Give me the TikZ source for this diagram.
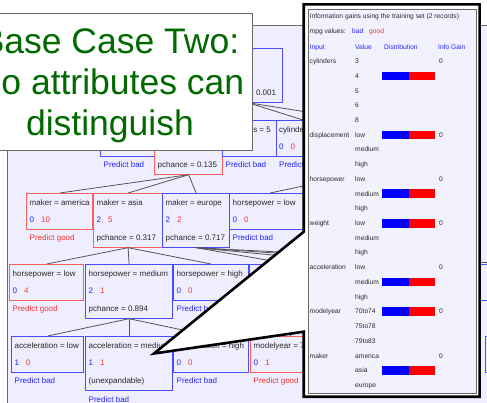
\documentclass[tikz,border=0pt]{standalone}
\usepackage{fontspec}
\setmainfont{Liberation Sans}
\definecolor{lav}{RGB}{238,238,255}
\definecolor{panelbg}{RGB}{242,242,255}
\definecolor{nblue}{RGB}{75,75,255}
\definecolor{nred}{RGB}{255,95,95}
\definecolor{tblue}{RGB}{35,35,255}
\definecolor{tred}{RGB}{255,45,45}
\definecolor{ink}{RGB}{40,40,40}
\definecolor{edge}{RGB}{85,85,85}
\definecolor{framegray}{RGB}{105,105,105}
\definecolor{titlegreen}{RGB}{0,105,0}
\definecolor{barblue}{RGB}{0,0,255}
\definecolor{barred}{RGB}{255,0,0}

\tikzset{
  tbox/.style={line width=1.2pt, fill=lav, inner sep=0pt, anchor=north west, minimum height=36pt},
  badleaf/.style={tbox, draw=nblue},
  goodleaf/.style={tbox, draw=nred},
  badsplit/.style={badleaf, minimum height=53.5pt},
  goodsplit/.style={goodleaf, minimum height=53.5pt},
  lbl/.style={anchor=base west, inner sep=0pt, font=\fontsize{8}{9}\selectfont, text=ink},
  link/.style={draw=edge, line width=0.8pt},
  plbl/.style={anchor=base west, inner sep=0pt, font=\fontsize{6.7}{8}\selectfont, text=ink},
  phead/.style={plbl, text=tblue},
  titleline/.style={anchor=base, inner sep=0pt, font=\fontsize{35.5}{41}\selectfont, text=titlegreen},
}

% text lines inside a tree box, placed from its top-left corner
\newcommand\treecap[2]{\node[lbl] (#1-cap) at ([xshift=3.5pt,yshift=-12pt]#1.north west) {#2};}
\newcommand\treecount[3]{\node[lbl] (#1-cnt) at ([xshift=3.5pt,yshift=-29pt]#1.north west) {\textcolor{tblue}{#2}\hspace{7pt}\textcolor{tred}{#3}};}
\newcommand\treenote[4]{\node[lbl, text=#3] (#1-#2) at ([xshift=3.5pt,yshift=-47.5pt]#1.north west) {#4};}

% rows of the information-gain table
\newcommand\rowy[1]{61.3+14.72*#1}
\newcommand\panelrow[3]{%
  \node[plbl] (pv#1) at (355,{\rowy{#1}+2.3}) {#3};
  \if\relax\detokenize{#2}\relax\else\node[plbl] (pa#1) at (309.5,{\rowy{#1}+2.3}) {#2};\fi}
\newcommand\panelbar[1]{%
  \fill[barblue] (382,{\rowy{#1}-4.3}) rectangle (408.5,{\rowy{#1}+4.3});
  \fill[barred] (408.5,{\rowy{#1}-4.3}) rectangle (435,{\rowy{#1}+4.3});}
\newcommand\panelgain[1]{\node[plbl] (pg#1) at (439,{\rowy{#1}+2.3}) {0};}

\begin{document}
\begin{tikzpicture}[x=1pt,y=-1pt]
\useasboundingbox (0,0) rectangle (487,402);
\clip (0,0) rectangle (487,402);

% application window
\draw[draw=framegray, line width=0.9pt, fill=lav] (7,25) rectangle (500,420);

% ---- decision tree ----
% row 0
\node[badsplit, minimum width=69pt] (root) at (213,48) {};
\treenote{root}{pc}{ink}{pchance = 0.001}
% row 1
\node[badleaf, minimum width=54pt] (cyl3) at (100,120) {};
\treenote{cyl3}{pr}{tblue}{Predict bad}
\node[goodsplit, minimum width=68pt] (cyl4) at (154,120) {};
\treenote{cyl4}{pc}{ink}{pchance = 0.135}
\node[badleaf, minimum width=53.5pt] (cyl5) at (222,120) {};
\treecap{cyl5}{cylinders = 5}
\treenote{cyl5}{pr}{tblue}{Predict bad}
\node[badleaf, minimum width=54pt] (cyl6) at (275.5,120) {};
\treecap{cyl6}{cylinders = 6}
\treecount{cyl6}{0}{0}
\treenote{cyl6}{pr}{tblue}{Predict bad}
\node[badsplit, minimum width=54pt] (cyl8) at (329.5,120) {};
% row 2
\node[goodleaf, minimum width=66pt] (mam) at (26,193) {};
\treecap{mam}{maker = america}
\treecount{mam}{0}{10}
\treenote{mam}{pr}{tred}{Predict good}
\node[goodsplit, minimum width=69pt] (mas) at (93,193) {};
\treecap{mas}{maker = asia}
\treecount{mas}{2}{5}
\treenote{mas}{pc}{ink}{pchance = 0.317}
\node[badsplit, minimum width=67pt] (meu) at (162,193) {};
\treecap{meu}{maker = europe}
\treecount{meu}{2}{2}
\treenote{meu}{pc}{ink}{pchance = 0.717}
\node[badleaf, minimum width=81pt] (hpa) at (229,193) {};
\treecap{hpa}{horsepower = low}
\treecount{hpa}{0}{0}
\treenote{hpa}{pr}{tblue}{Predict bad}
% row 3
\node[goodleaf, minimum width=74pt] (hlo) at (9,264) {};
\treecap{hlo}{horsepower = low}
\treecount{hlo}{0}{4}
\treenote{hlo}{pr}{tred}{Predict good}
\node[badsplit, minimum width=87pt] (hme) at (85,264) {};
\treecap{hme}{horsepower = medium}
\treecount{hme}{2}{1}
\treenote{hme}{pc}{ink}{pchance = 0.894}
\node[badleaf, minimum width=75pt] (hhi) at (173,264) {};
\treecap{hhi}{horsepower = high}
\treecount{hhi}{0}{0}
\treenote{hhi}{pr}{tblue}{Predict bad}
\node[badsplit, minimum width=80pt] (eua) at (249,264) {};
\node[badleaf, minimum width=70pt] (eub) at (331,264) {};
\node[badleaf, minimum width=70pt] (euc) at (403,264) {};
\node[badleaf, minimum width=70pt] (eud) at (478,264) {};
% row 4
\node[badleaf, minimum width=72pt] (alo) at (11,336) {};
\treecap{alo}{acceleration = low}
\treecount{alo}{1}{0}
\treenote{alo}{pr}{tblue}{Predict bad}
\node[badleaf, minimum width=87pt, minimum height=54pt] (ame) at (85,336) {};
\treecap{ame}{acceleration = medium}
\treecount{ame}{1}{1}
\treenote{ame}{ux}{ink}{(unexpandable)}
\node[lbl, text=tblue] (ame-pr) at ([xshift=3.5pt,yshift=-66pt]ame.north west) {Predict bad};
\node[badleaf, minimum width=75pt] (ahi) at (173,336) {};
\treecap{ahi}{acceleration = high}
\treecount{ahi}{0}{0}
\treenote{ahi}{pr}{tblue}{Predict bad}
\node[goodleaf, minimum width=80pt] (myr) at (250,336) {};
\treecap{myr}{modelyear = 70to74}
\treecount{myr}{0}{1}
\treenote{myr}{pr}{tred}{Predict good}
\node[badleaf, minimum width=60pt] (rx4) at (484.5,336) {};

% connectors
\foreach \c in {cyl3,cyl4,cyl5,cyl6,cyl8} \draw[link] (root.south) -- (\c.north);
\foreach \c in {mam,mas,meu} \draw[link] (cyl4.south) -- (\c.north);
\draw[link] (cyl8.south) -- (hpa.north);
\foreach \c in {hlo,hme,hhi} \draw[link] (mas.south) -- (\c.north);
\foreach \c in {eua,eub,euc,eud} \draw[link] (meu.south) -- (\c.north);
\foreach \c in {alo,ame,ahi} \draw[link] (hme.south) -- (\c.north);
\draw[link] (eua.south) -- (myr.north);

% ---- title card ----
\node[draw=framegray, line width=1pt, fill=white, inner sep=0pt, anchor=north east,
      minimum width=300pt, minimum height=137pt] (titlecard) at (253,13) {};
\node[titleline] (title1) at (110,53) {Base Case Two:};
\node[titleline] (title2) at (110,94) {No attributes can};
\node[titleline] (title3) at (110,135) {distinguish};

% ---- callout with information-gain table ----
\draw[line width=2.6pt, fill=white, line join=miter]
  (303.7,231.8) -- (303.7,4.3) -- (479.6,4.3) -- (479.6,396.7) -- (303.7,396.7)
  -- (303.7,331.7) -- (154,353.5) -- cycle;
\node[draw=framegray, line width=1pt, fill=panelbg, inner sep=0pt, anchor=north west,
      minimum width=168.5pt, minimum height=384.8pt] (panel) at (307.5,8.5) {};

\node[plbl] (ptitle) at (309.5,18.3) {Information gains using the training set (2 records)};
\node[plbl] (pmpg) at (309.5,33.3) {mpg values:};
\node[plbl, text=tblue] (pbad) at (352,33.3) {bad};
\node[plbl, text=tred] (pgood) at (369,33.3) {good};
\node[phead] (hin) at (309.5,49.3) {Input};
\node[phead] (hval) at (355,49.3) {Value};
\node[phead] (hdist) at (384,49.3) {Distribution};
\node[phead] (hgain) at (438,49.3) {Info Gain};

\panelrow{0}{cylinders}{3}
\panelrow{1}{}{4}
\panelrow{2}{}{5}
\panelrow{3}{}{6}
\panelrow{4}{}{8}
\panelrow{5}{displacement}{low}
\panelrow{6}{}{medium}
\panelrow{7}{}{high}
\panelrow{8}{horsepower}{low}
\panelrow{9}{}{medium}
\panelrow{10}{}{high}
\panelrow{11}{weight}{low}
\panelrow{12}{}{medium}
\panelrow{13}{}{high}
\panelrow{14}{acceleration}{low}
\panelrow{15}{}{medium}
\panelrow{16}{}{high}
\panelrow{17}{modelyear}{70to74}
\panelrow{18}{}{75to78}
\panelrow{19}{}{79to83}
\panelrow{20}{maker}{america}
\panelrow{21}{}{asia}
\panelrow{22}{}{europe}

\foreach \r in {1,5,9,11,15,17,21} {\panelbar{\r}}
\foreach \r in {0,5,8,11,14,17,20} {\panelgain{\r}}
\end{tikzpicture}
\end{document}
